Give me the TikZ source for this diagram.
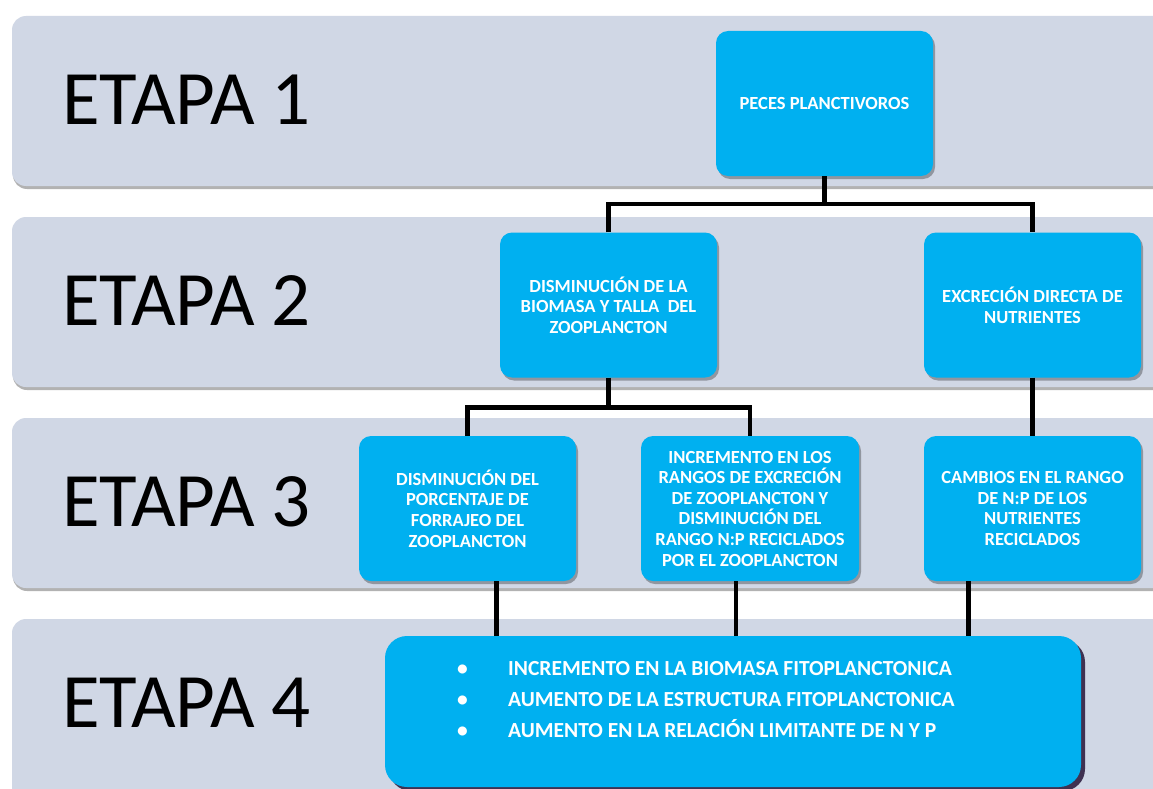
\documentclass[tikz,border=0pt]{standalone}
\usepackage{fontspec}
\setmainfont{Carlito}
\usetikzlibrary{shadows,calc}
\definecolor{bandcol}{HTML}{D0D7E5}
\definecolor{cyanbox}{HTML}{00B0F0}
\definecolor{darkshadow}{HTML}{3F3151}
\begin{document}
\begin{tikzpicture}[x=1pt,y=-1pt,
  bandbox/.style={fill=bandcol, rounded corners=14pt, inner sep=0pt,
    drop shadow={shadow xshift=1pt, shadow yshift=-3pt, fill=black, opacity=0.3}},
  stagelabel/.style={anchor=west, font=\fontsize{77}{84}\selectfont, inner sep=0pt},
  cbox/.style={fill=cyanbox, rounded corners=12pt, minimum width=217pt, minimum height=145pt,
    text=white, font=\bfseries\fontsize{18.5}{20.6}\selectfont, align=center, inner sep=0pt,
    drop shadow={shadow xshift=2pt, shadow yshift=-3pt, fill=black, opacity=0.3}},
  bigbox/.style={fill=cyanbox, rounded corners=22pt, minimum width=696pt, minimum height=151pt, inner sep=0pt,
    drop shadow={shadow xshift=4pt, shadow yshift=-4pt, fill=darkshadow, opacity=1}},
  link/.style={line width=4.5pt, black}
]
\useasboundingbox (0,0) rectangle (1153,789);
\clip (0,0) rectangle (1153,789);
\fill[white] (0,0) rectangle (1153,789);
% bands
\node[bandbox, minimum width=1168pt, minimum height=170pt] (b1) at (596,101) {};
\node[bandbox, minimum width=1168pt, minimum height=170pt] (b2) at (596,302) {};
\node[bandbox, minimum width=1168pt, minimum height=170pt] (b3) at (596,503) {};
\node[bandbox, minimum width=1168pt, minimum height=200pt] (b4) at (596,719) {};
\node[stagelabel] (s1) at (62,99.5) {ETAPA 1};
\node[stagelabel] (s2) at (62,300.5) {ETAPA 2};
\node[stagelabel] (s3) at (62,501.5) {ETAPA 3};
\node[stagelabel] (s4) at (62,702.5) {ETAPA 4};
% boxes
\node[cbox] (p1) at (824.5,103.5) {PECES PLANCTIVOROS};
\node[cbox] (d2) at (608.5,305) {DISMINUCIÓN DE LA\\BIOMASA Y TALLA~ DEL\\ZOOPLANCTON};
\node[cbox] (e2) at (1032.5,305) {EXCRECIÓN DIRECTA DE\\NUTRIENTES};
\node[cbox] (d3a) at (467.5,508.5) {DISMINUCIÓN DEL\\PORCENTAJE DE\\FORRAJEO DEL\\ZOOPLANCTON};
\node[cbox, minimum width=218pt] (d3b) at (750,508.5) {INCREMENTO EN LOS\\RANGOS DE EXCRECIÓN\\DE ZOOPLANCTON Y\\DISMINUCIÓN DEL\\RANGO N:P RECICLADOS\\POR EL ZOOPLANCTON};
\node[cbox] (d3c) at (1032.5,508.5) {CAMBIOS EN EL RANGO\\DE N:P DE LOS\\NUTRIENTES\\RECICLADOS};
\node[bigbox] (bot) at (733,711.5) {};
\node[anchor=north west, inner sep=0pt, text=white, align=left,
  font=\bfseries\fontsize{21.5}{31}\selectfont] (list) at (457,661)
  {\makebox[51pt][l]{\textbullet}INCREMENTO EN LA BIOMASA FITOPLANCTONICA\\
   \makebox[51pt][l]{\textbullet}AUMENTO DE LA ESTRUCTURA FITOPLANCTONICA\\
   \makebox[51pt][l]{\textbullet}AUMENTO EN LA RELACIÓN LIMITANTE DE N Y P};
% connectors
\coordinate (j1) at ($(p1.south)+(0,28)$);
\draw[link] (p1.south) -- (j1);
\draw[link] (d2.north) |- (j1) -| (e2.north);
\coordinate (j2) at ($(d2.south)+(0,30)$);
\draw[link] (d2.south) -- (j2);
\draw[link] (d3a.north) |- (j2) -| (d3b.north);
\draw[link] (e2.south) -- (d3c.north);
\draw[link] ([xshift=29pt]d3a.south) -- ([xshift=29pt]d3a.south |- bot.north);
\draw[link] ([xshift=-14pt]d3b.south) -- ([xshift=-14pt]d3b.south |- bot.north);
\draw[link] ([xshift=-64pt]d3c.south) -- ([xshift=-64pt]d3c.south |- bot.north);
\end{tikzpicture}
\end{document}
